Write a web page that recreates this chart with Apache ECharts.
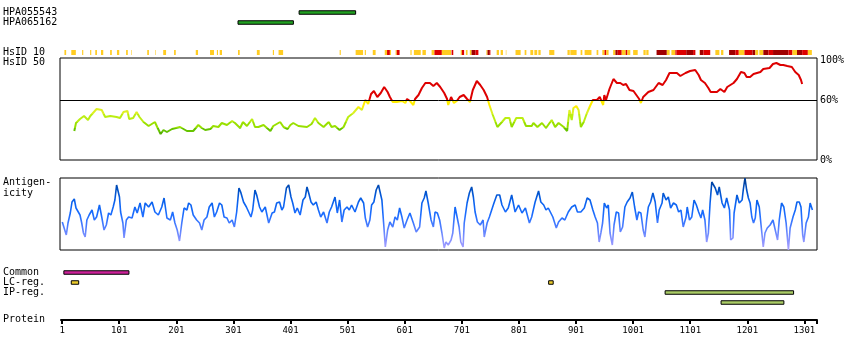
<!DOCTYPE html>
<html>
<head>
<meta charset="utf-8">
<script src="https://cdn.jsdelivr.net/npm/echarts@6/dist/echarts.min.js"></script>
<style>
html,body{margin:0;padding:0;background:#fff;}
#chart{width:850px;height:360px;}
</style>
</head>
<body>
<div id="chart"></div>
<script>
// ---------------- data ----------------
const proteinStart = -1;
const proteinEnd = 1323;
const proteinTicks = [1, 101, 201, 301, 401, 501, 601, 701, 801, 901, 1001, 1101, 1201, 1301];
const pctTicks = [0, 60, 100];

const antibodyNames = ['HPA055543', 'HPA065162'];
const antibodyRanges = [[416, 515], [309, 406]];

const hsidLabels = ['HsID 10', 'HsID 50'];
// [start, end, level] level 1=yellow, 2=red, 3=dark red
const hsid10Segments = [
  [5,8,1],[17,25,1],[36,38,1],[50,52,1],[59,62,1],[69,73,1],[85,88,1],[97,101,1],[113,116,1],[122,123,1],
  [150,153,1],[164,165,1],[178,183,1],[197,200,1],[235,239,1],[260,267,1],[272,274,1],[277,281,1],[309,312,1],
  [342,347,1],[370,372,1],[380,388,1],[487,489,1],[515,528,1],[531,533,1],[545,550,1],
  [566,570,1],[570,575,2],[575,577,1],[585,587,1],[587,592,2],[611,613,1],[617,629,1],[632,638,1],
  [648,653,1],[653,666,2],[666,682,1],[683,686,2],[699,701,1],[701,705,2],[708,711,1],
  [715,718,1],[718,725,3],[725,730,2],[744,746,1],[746,750,3],[750,751,2],[762,766,1],[769,773,1],[778,779,1],
  [795,804,1],[811,814,1],[821,826,1],[828,833,1],[835,839,1],[854,863,1],[886,890,1],[891,902,1],[909,912,1],
  [916,928,1],[937,940,1],[947,951,1],[951,954,2],[954,958,1],
  [966,970,1],[970,974,3],[974,981,2],[981,988,1],[988,991,2],[991,996,1],[1001,1009,1],
  [1019,1023,1],[1024,1028,1],[1042,1060,3],[1060,1065,1],[1068,1075,1],[1075,1077,2],
  [1077,1094,2],[1094,1106,3],[1106,1110,2],[1117,1118,1],[1118,1124,3],[1124,1136,2],
  [1145,1152,1],[1155,1159,1],[1169,1180,3],[1180,1186,2],[1186,1196,1],[1196,1210,2],[1210,1215,3],[1215,1220,1],
  [1222,1229,1],[1229,1238,3],[1238,1246,2],[1246,1273,3],[1273,1280,2],[1280,1288,1],[1288,1297,3],[1297,1307,2],[1307,1314,1]
];

// HsID 50 identity (%) [residue, value]
const hsid50 = [
  [24,29],[27,37],[34,41],[41,44],[48,40],[52,44],[63,51],[72,50],[78,43],[87,44],[98,43],[104,42],[110,48],[117,49],
  [120,41],[127,42],[133,48],[138,43],[145,38],[154,34],[165,38],[169,33],[175,26],[180,30],[186,28],[195,31],[209,33],
  [221,29],[232,29],[241,35],[247,32],[253,30],[262,31],[267,34],[276,33],[282,37],[291,35],[300,39],[305,37],[314,32],
  [319,38],[326,34],[335,41],[340,33],[346,33],[355,35],[367,29],[372,34],[384,38],[390,33],[397,31],[402,35],[407,37],
  [416,34],[419,35],[431,33],[439,36],[445,42],[451,37],[460,33],[469,38],[474,33],[480,34],[488,30],[495,33],[503,43],
  [512,47],[521,53],[527,50],[533,60],[538,56],[543,66],[548,69],[554,63],[560,67],[566,73],[572,68],[576,63],[581,58],
  [588,58],[597,59],[603,57],[606,61],[611,59],[617,55],[620,61],[626,65],[632,72],[638,77],[646,77],[652,74],[658,77],
  [664,73],[671,67],[676,61],[678,55],[683,63],[688,57],[693,59],[698,63],[705,65],[711,61],[716,58],[721,70],[728,79],
  [734,75],[740,70],[746,63],[750,55],[756,45],[764,33],[772,38],[778,42],[785,42],[789,33],[797,42],[808,42],[814,34],
  [824,34],[827,37],[834,33],[842,37],[849,32],[859,40],[865,33],[871,37],[880,33],[886,29],[890,50],[894,40],[897,52],
  [902,54],[906,50],[910,33],[915,38],[920,46],[926,54],[931,60],[938,60],[943,63],[949,55],[951,65],[954,60],[960,71],
  [967,81],[973,77],[979,77],[984,75],[989,76],[995,70],[1002,69],[1007,65],[1012,61],[1015,57],[1019,63],[1028,68],
  [1037,70],[1046,77],[1053,75],[1059,80],[1065,87],[1078,87],[1084,84],[1093,87],[1101,89],[1110,90],[1116,85],[1120,80],
  [1127,77],[1133,72],[1137,68],[1148,68],[1154,71],[1161,68],[1166,73],[1177,77],[1183,81],[1190,88],[1196,87],[1200,83],
  [1206,83],[1212,86],[1224,88],[1229,91],[1240,92],[1246,96],[1252,97],[1259,95],[1264,95],[1271,94],[1279,93],[1285,88],
  [1291,85],[1295,80],[1297,76]
];

const antigenLabel = ['Antigen-', 'icity'];
// antigenicity score [residue, value]
const antigenicity = [
  [3,28],[6,30],[10,15],[13,27],[17,37],[20,48],[24,51],[27,42],[31,38],[34,35],[37,27],[40,17],[43,13],[46,30],[50,35],
  [55,40],[59,30],[63,33],[68,45],[72,33],[76,20],[80,25],[84,37],[88,35],[92,43],[95,50],[98,65],[100,67],[103,53],[105,38],
  [109,27],[111,12],[115,30],[119,33],[125,32],[130,43],[134,37],[139,47],[144,33],[148,47],[154,43],[160,48],[165,38],
  [171,35],[177,43],[181,52],[186,32],[192,30],[196,38],[200,27],[204,20],[208,9],[212,27],[216,42],[221,40],[224,47],
  [228,45],[232,35],[238,30],[243,27],[247,20],[251,30],[256,33],[260,43],[265,47],[269,33],[273,38],[278,47],[282,45],
  [286,33],[291,32],[295,27],[300,30],[304,23],[308,38],[312,62],[315,58],[320,48],[325,43],[329,38],[333,33],[336,40],
  [340,60],[343,55],[348,43],[352,38],[358,43],[364,27],[370,37],[374,38],[378,47],[383,48],[387,40],[390,43],[395,62],
  [399,65],[403,53],[406,47],[410,37],[414,42],[419,35],[424,50],[428,53],[431,63],[434,57],[438,48],[442,45],[447,48],
  [451,40],[455,33],[460,38],[466,27],[470,38],[474,43],[480,53],[484,37],[488,50],[492,28],[496,40],[501,43],[505,40],
  [509,45],[515,38],[521,48],[525,52],[530,47],[533,32],[537,23],[541,30],[544,45],[548,48],[552,60],[556,65],[559,67],
  [562,50],[565,27],[568,3],[572,20],[576,28],[581,23],[585,33],[589,30],[593,42],[597,33],[601,22],[606,30],[611,37],
  [617,27],[622,18],[628,23],[632,47],[636,52],[639,59],[643,47],[648,30],[652,23],[655,38],[659,37],[663,30],[667,17],
  [671,2],[674,8],[678,5],[683,10],[686,17],[690,43],[693,45],[697,23],[700,8],[704,3],[706,27],[711,47],[715,57],[719,63],
  [722,53],[725,38],[729,28],[734,25],[739,30],[741,13],[746,27],[750,33],[754,40],[758,47],[763,55],[768,55],[772,45],
  [778,38],[783,42],[789,55],[795,38],[801,45],[807,37],[813,42],[820,27],[824,33],[830,48],[836,59],[840,48],[845,45],
  [849,40],[853,42],[861,33],[867,22],[871,28],[877,32],[882,30],[888,38],[894,43],[900,45],[904,38],[910,38],[916,42],
  [921,52],[926,50],[931,40],[935,33],[939,27],[942,8],[945,17],[948,27],[951,47],[955,42],[958,45],[961,17],[965,5],
  [968,25],[972,38],[976,37],[979,18],[983,23],[987,43],[991,48],[996,52],[1000,58],[1004,43],[1008,30],[1011,38],[1015,37],
  [1019,20],[1022,13],[1025,30],[1028,43],[1032,48],[1036,57],[1040,48],[1044,27],[1047,40],[1052,47],[1054,57],[1059,50],
  [1063,53],[1067,42],[1072,47],[1077,45],[1081,38],[1085,40],[1089,23],[1094,33],[1096,43],[1100,30],[1104,33],[1108,50],
  [1112,45],[1116,38],[1120,32],[1123,40],[1127,30],[1130,8],[1133,17],[1136,47],[1139,68],[1142,70],[1145,62],[1149,55],
  [1152,63],[1157,47],[1161,42],[1165,52],[1170,40],[1172,10],[1176,12],[1178,37],[1183,55],[1187,47],[1192,50],[1194,60],
  [1197,72],[1200,60],[1203,52],[1206,47],[1209,33],[1212,27],[1215,32],[1218,50],[1222,43],[1226,20],[1229,3],[1232,17],
  [1236,22],[1241,25],[1246,30],[1250,20],[1254,10],[1257,30],[1261,47],[1265,43],[1269,27],[1273,0],[1276,22],[1281,33],
  [1285,40],[1288,48],[1292,48],[1295,43],[1298,15],[1300,8],[1304,27],[1308,33],[1311,47],[1315,40]
];

const trackNames = ['Common', 'LC-reg.', 'IP-reg.', ''];
const commonRegions = [[4, 118]];
const lcRegions = [[17, 30], [853, 861]];
const ipRegions = [[1057, 1282], [1155, 1265]];
const proteinLabel = ['Protein'];

// ---------------- chart ----------------
const FONT = 'DejaVu Sans Mono';
const levelColors = {1: '#ffcc22', 2: '#dd0000', 3: '#a00000'};

function barRenderer(h, fill, stroke) {
  return function (params, api) {
    const row = api.value(2);
    const a = api.coord([api.value(0), row]);
    const b = api.coord([api.value(1), row]);
    const f = typeof fill === 'function' ? fill(api) : fill;
    return {
      type: 'rect',
      shape: {x: a[0], y: a[1] - h / 2, width: b[0] - a[0], height: h},
      style: stroke ? {fill: f, stroke: '#000', lineWidth: 1} : {fill: f}
    };
  };
}

const hiddenX = i => ({gridIndex: i, type: 'value', min: proteinStart, max: proteinEnd, show: false});
const labelY = (i, data) => ({
  gridIndex: i, type: 'category', data: data, inverse: true,
  axisLine: {show: false}, axisTick: {show: false}, splitLine: {show: false},
  axisLabel: {align: 'left', margin: 58, fontFamily: FONT, fontSize: 10, color: '#000', interval: 0}
});

const option = {
  animation: false,
  backgroundColor: '#fff',
  textStyle: {fontFamily: FONT},
  grid: [
    {left: 60, top: 58, width: 757, height: 102, show: true, borderColor: '#000', borderWidth: 1},
    {left: 60, top: 178, width: 757, height: 72, show: true, borderColor: '#000', borderWidth: 1},
    {left: 60, top: 7.5, width: 757, height: 20},
    {left: 60, top: 47.5, width: 757, height: 20},
    {left: 60, top: 177.5, width: 757, height: 21},
    {left: 60, top: 267.5, width: 757, height: 40},
    {left: 60, top: 319, width: 757, height: 1}
  ],
  xAxis: [
    hiddenX(0), hiddenX(1), hiddenX(2), hiddenX(3), hiddenX(4), hiddenX(5),
    {
      gridIndex: 6, type: 'value', min: proteinStart, max: proteinEnd, position: 'bottom',
      axisLine: {show: true, lineStyle: {color: '#000', width: 2}},
      axisTick: {show: true, customValues: proteinTicks.concat([proteinEnd]), length: 4, lineStyle: {color: '#000', width: 2}},
      axisLabel: {customValues: proteinTicks, formatter: v => String(v), margin: 6, fontSize: 9, color: '#000', fontFamily: FONT},
      splitLine: {show: false}
    }
  ],
  yAxis: [
    {
      gridIndex: 0, type: 'value', min: 0, max: 102, interval: 20, position: 'right',
      axisLine: {show: false}, axisTick: {show: false}, splitLine: {show: false},
      axisLabel: {formatter: v => pctTicks.includes(v) ? v + '%' : '', margin: 3, color: '#000', fontSize: 10, fontFamily: FONT}
    },
    {gridIndex: 1, type: 'value', min: 0, max: 72, show: false},
    labelY(2, antibodyNames),
    labelY(3, hsidLabels),
    labelY(4, antigenLabel),
    labelY(5, trackNames),
    labelY(6, proteinLabel)
  ],
  visualMap: [
    {
      type: 'piecewise', show: false, seriesIndex: 0, dimension: 1,
      pieces: [
        {lt: 28, color: '#55b000'},
        {gte: 28, lt: 32, color: '#66c400'},
        {gte: 32, lt: 38, color: '#99e000'},
        {gte: 38, lt: 46, color: '#bbee11'},
        {gte: 46, lt: 52, color: '#ddf022'},
        {gte: 52, lt: 60, color: '#ffee00'},
        {gte: 60, color: '#dd0000'}
      ]
    },
    {
      type: 'continuous', show: false, seriesIndex: 1, dimension: 1, min: 0, max: 72,
      inRange: {color: ['#aaa0ff', '#8090ff', '#4a7cff', '#1a6cff', '#0a62ee', '#0050c4', '#003a90']}
    }
  ],
  series: [
    {
      type: 'line', xAxisIndex: 0, yAxisIndex: 0, data: hsid50, showSymbol: false,
      lineStyle: {width: 2},
      markLine: {
        silent: true, symbol: ['none', 'none'], label: {show: false},
        lineStyle: {color: '#000', width: 1, type: 'solid'},
        data: [{yAxis: 60}]
      }
    },
    {
      type: 'line', xAxisIndex: 1, yAxisIndex: 1, data: antigenicity, showSymbol: false,
      lineStyle: {width: 1.6}
    },
    {
      type: 'custom', xAxisIndex: 2, yAxisIndex: 2,
      data: antibodyRanges.map((r, i) => [r[0], r[1], i]),
      encode: {x: [0, 1], y: 2},
      renderItem: barRenderer(3.5, '#22a022', true)
    },
    {
      type: 'custom', xAxisIndex: 3, yAxisIndex: 3,
      data: hsid10Segments.map(s => [s[0], s[1], 0, s[2]]),
      encode: {x: [0, 1], y: 2},
      renderItem: barRenderer(5, api => levelColors[api.value(3)], false)
    },
    {
      type: 'custom', xAxisIndex: 5, yAxisIndex: 5,
      data: commonRegions.map(r => [r[0], r[1], 0]),
      encode: {x: [0, 1], y: 2},
      renderItem: barRenderer(3.5, '#cc2299', true)
    },
    {
      type: 'custom', xAxisIndex: 5, yAxisIndex: 5,
      data: lcRegions.map(r => [r[0], r[1], 1]),
      encode: {x: [0, 1], y: 2},
      renderItem: barRenderer(3.5, '#eccc2c', true)
    },
    {
      type: 'custom', xAxisIndex: 5, yAxisIndex: 5,
      data: ipRegions.map((r, i) => [r[0], r[1], 2 + i]),
      encode: {x: [0, 1], y: 2},
      renderItem: barRenderer(3.5, '#aacc66', true)
    }
  ]
};

const chart = echarts.init(document.getElementById('chart'), null, {renderer: 'canvas'});
chart.setOption(option);
</script>
</body>
</html>
